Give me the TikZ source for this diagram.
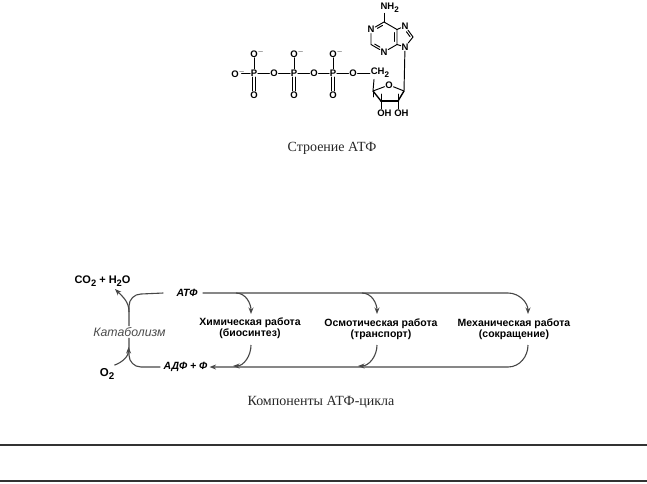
\documentclass[tikz,border=0pt]{standalone}
\usepackage{fontspec}
\setmainfont{Liberation Serif}
\setsansfont{Liberation Sans}
\usetikzlibrary{arrows.meta,calc}
\newcommand{\innerbond}[5]{\draw[bond] ($ ($(#1)!#4!(#2)$)!2.2pt!#3:(#2) $) -- ($ ($(#1)!#5!(#2)$)!2.2pt!#3:(#2) $);}
\newcommand{\mychg}{\rlap{$^{-}$}}
\newcommand{\bigsub}[1]{\raisebox{-0.28em}{\scalebox{0.85}{#1}}}
\begin{document}
\begin{tikzpicture}[x=1pt,y=-1pt,
  atom/.style={font=\sffamily\bfseries\fontsize{9.5}{9.5}\selectfont, inner sep=0.6pt},
  bond/.style={line width=0.95pt, line cap=round},
  lbl/.style={font=\sffamily\bfseries\fontsize{10.5}{11.5}\selectfont, align=center, inner sep=1pt},
  itl/.style={font=\sffamily\bfseries\itshape\fontsize{10.5}{11.5}\selectfont, inner sep=1pt},
  captxt/.style={font=\fontsize{14}{15}\selectfont, text=black!85},
  flow/.style={line width=1.1pt, draw=black!72},
  arr/.style={flow, -{Stealth[length=6.5pt,width=5pt]}}]
\useasboundingbox (0,0) rectangle (647,483);
% ---------- ATP molecule ----------
\node[atom] (oa) at (235,73) {O\mychg};
\node[atom] (p1) at (254,73) {P};
\node[atom] (p1t) at (254,53) {O\mychg};
\node[atom] (p1b) at (254,95) {O};
\node[atom] (ob1) at (274,73) {O};
\node[atom] (p2) at (294,73) {P};
\node[atom] (p2t) at (294,53) {O\mychg};
\node[atom] (p2b) at (294,95) {O};
\node[atom] (ob2) at (314,73) {O};
\node[atom] (p3) at (333,73) {P};
\node[atom] (p3t) at (333,53) {O\mychg};
\node[atom] (p3b) at (333,95) {O};
\node[atom] (ob3) at (353,73) {O};
\node[atom, anchor=west] (ch2) at (370,73) {CH\bigsub{2}};
\draw[bond] ([xshift=2pt]oa.east) -- (p1) -- (ob1) -- (p2) -- (ob2) -- (p3) -- (ob3) -- (ch2.west);
\foreach \p in {p1,p2,p3}{
  \draw[bond] (\p t) -- (\p);
  \draw[bond] ([xshift=-1.2pt]\p.south) -- ([xshift=-1.2pt]\p b.north);
  \draw[bond] ([xshift=1.2pt]\p.south) -- ([xshift=1.2pt]\p b.north);
}
% ribose
\coordinate (c4) at (373,91);
\node[atom] (or) at (389,85) {O};
\coordinate (c1) at (404,91);
\coordinate (c2) at (398,101);
\coordinate (c3) at (381,101);
\draw[bond] ([xshift=4pt,yshift=-1pt]ch2.south west) -- (c4);
\draw[bond] (c4) -- (or) -- (c1);
\draw[line width=1.4pt, line join=round] (c4) -- (c3);
\draw[line width=1.4pt, line join=round] (c1) -- (c2);
\draw[line width=2.5pt, line cap=round] (c3) -- (c2);
\draw[bond] (c4) -- ++(0,6);
\node[atom] (oh1) at (381,113) {O\rlap{H}};
\node[atom] (oh2) at (398,113) {O\rlap{H}};
\draw[bond] (381,94) -- (oh1.north);
\draw[bond] (398,94) -- (oh2.north);
% adenine
\node[atom] (nh2) at (384,8) {N\rlap{H\bigsub{2}}};
\coordinate (c6) at (384,22);
\node[atom] (n1) at (371,29.5) {N};
\coordinate (c2a) at (371,44.5);
\node[atom] (n3) at (384,52) {N};
\coordinate (c4a) at (397,44.5);
\coordinate (c5a) at (397,29.5);
\node[atom] (n7) at (405,26) {N};
\coordinate (c8) at (413,37);
\node[atom] (n9) at (405,47) {N};
\draw[bond] (nh2) -- (c6);
\draw[bond] (c6) -- (n1) -- (c2a) -- (n3) -- (c4a) -- (c5a) -- (c6);
\draw[bond] (c5a) -- (n7) -- (c8) -- (n9) -- (c4a);
\draw[bond] (n9) -- (c1);
\innerbond{c6}{n1}{90}{0.2}{0.6}
\innerbond{c2a}{n3}{90}{0.2}{0.6}
\innerbond{c4a}{c5a}{90}{0.2}{0.8}
\innerbond{c8}{n7}{90}{0.15}{0.6}
\node[captxt] (cap1) at (332,148) {Строение АТФ};
% ---------- ATP cycle ----------
\node[lbl, font=\sffamily\bfseries\fontsize{11}{12}\selectfont] (co2) at (102.5,281) {CO\bigsub{2} + H\bigsub{2}O};
\node[itl] (atf) at (187,293) {АТФ};
\node[itl] (adf) at (185.5,367) {АДФ + Ф};
\node[font=\sffamily\itshape\fontsize{12.3}{13}\selectfont, text=black!70, inner sep=1pt] (kat) at (129.5,332) {Катаболизм};
\node[lbl, font=\sffamily\bfseries\fontsize{11.5}{12}\selectfont] (o2) at (107,374) {O\bigsub{2}};
\node[lbl] (chem) at (250,328) {Химическая работа\\(биосинтез)};
\node[lbl] (osm) at (381,329) {Осмотическая работа\\(транспорт)};
\node[lbl] (mech) at (514,329) {Механическая работа\\(сокращение)};
\coordinate (ct) at (251,314);
\coordinate (cb) at (251,345);
\coordinate (ot) at (377,314);
\coordinate (ob) at (377,345);
\coordinate (mt) at (528,314);
\coordinate (mb) at (528,345);
% top line
\draw[arr] ([xshift=4pt]atf.east) -- (508,293) to[out=0,in=90] (mt);
\draw[arr] (236,293) to[out=0,in=90] (ct);
\draw[arr] (362,293) to[out=0,in=90] (ot);
% bottom line
\draw[arr] (mb) to[out=270,in=0] (508,367) -- ([xshift=1pt]adf.east);
\draw[arr] (ob) to[out=270,in=0] (358,366);
\draw[arr] (cb) to[out=270,in=0] (233,366);
% catabolism
\draw[flow] ([xshift=-12pt]atf.west) -- (141,294) to[out=180,in=90] (129,306) -- (kat.north -| 129,0);
\draw[arr] (129,312) to[out=90,in=-45] (115,289);
\draw[flow] (kat.south -| 129,0) -- (129,355) to[out=270,in=180] (141,367) -- ([xshift=-2pt]adf.west);
\draw[arr] ([xshift=-1pt,yshift=2pt]o2.north east) to[out=20,in=270] (128.6,347);
\node[captxt] (cap2) at (321,402) {Компоненты АТФ-цикла};
% rules
\draw[line width=2.2pt, black!80] (0,445) -- (647,445);
\draw[line width=2pt, black!80] (0,481) -- (647,481);
\end{tikzpicture}
\end{document}
